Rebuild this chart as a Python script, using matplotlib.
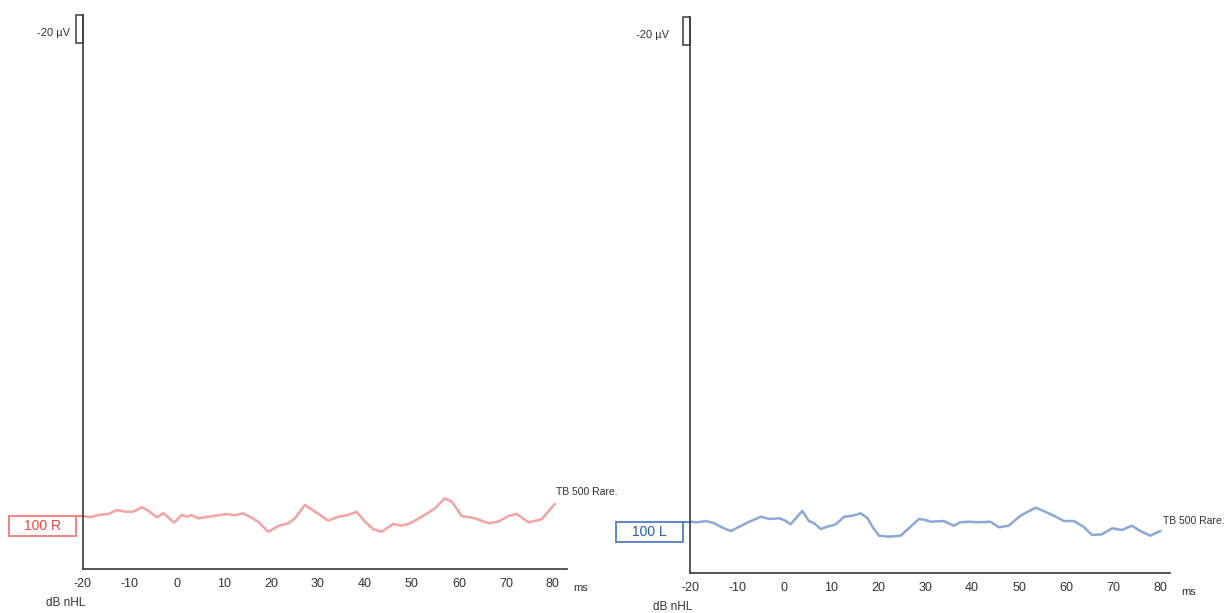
import matplotlib
matplotlib.use('Agg')
import matplotlib.pyplot as plt
from matplotlib.patches import Rectangle

plt.rcParams['font.family'] = ['Liberation Sans', 'DejaVu Sans']

# right ear trace (ms, amplitude in display units, 0 = trace baseline)
ms_r = [-19.9, -18.5, -16.7, -14.6, -12.8, -11.1, -9.3, -7.5, -6.1, -4.3, -2.9, -1.9,
        -0.6, 1.0, 2.1, 3.1, 4.5, 6.7, 8.8, 10.6, 12.3, 14.1, 15.5, 17.3, 19.4, 21.6,
        23.7, 25.1, 27.2, 29.4, 32.2, 34.3, 36.4, 38.2, 40.0, 41.8, 43.6, 46.0, 47.8,
        49.6, 52.1, 54.9, 57.0, 58.5, 60.6, 63.4, 66.3, 68.4, 70.5, 72.3, 74.8, 77.6, 80.4]
amp_r = [0, -1.3, 1, 2, 6, 4.3, 4.3, 8.7, 5.3, -1.3, 2.7, -1.3,
         -6.7, 1, -0.7, 1, -2.3, -0.7, 0.7, 2, 0.7, 2.7, -0.7, -5.7, -15.7, -10,
         -7.3, -2.3, 11, 4.3, -4.7, -0.7, 1, 4.3, -5.7, -13.3, -15.7, -8, -9.7,
         -7.3, -0.7, 7.7, 17.7, 14.3, 0, -2.3, -7.3, -5.7, 0, 2, -6.3, -3.3, 12]

# left ear trace
ms_l = [-19.9, -18.4, -16.6, -14.8, -13.1, -11.3, -9.5, -7.4, -4.9, -3.1, -1.0, 0.0,
        1.4, 2.5, 3.9, 5.3, 6.4, 7.8, 9.2, 11.0, 12.8, 14.6, 16.3, 17.8, 18.8, 20.2,
        22.3, 24.8, 26.9, 28.7, 30.1, 31.2, 34.0, 36.1, 37.5, 39.3, 41.4, 43.9, 45.7,
        47.8, 50.3, 53.5, 55.2, 57.4, 59.5, 61.6, 63.7, 65.5, 67.6, 69.8, 71.9, 74.0,
        75.8, 77.9, 80.0]
amp_l = [0, -0.6, 0.7, -1.6, -6, -9.3, -5, 0, 5, 2.7, 3.4, 1.7,
         -2.6, 3.4, 10.7, 0.7, -1.6, -7.3, -5, -2.6, 5, 6, 8.4, 3.4, -5, -14,
         -15, -14, -5, 2.7, 1.7, 0, 0.7, -4, -0.6, 0, -0.6, 0, -5.6,
         -4, 6, 14, 10.7, 6, 0.7, 0.7, -5, -13.3, -12.6, -6.6, -8.3, -4,
         -9.3, -14, -9.3]

xticks = [-20, -10, 0, 10, 20, 30, 40, 50, 60, 70, 80]

W, H = 1225, 613
fig = plt.figure(figsize=(W / 100, H / 100), dpi=100)
fig.patch.set_facecolor('white')

axis_col = '#3a3a3a'
text_col = '#333333'


def make_panel(left, right, top, bottom, base_y, x_end, ms, amp, line_col,
               label, box_edge, box_txt, tb_y, uv_x):
    ax = fig.add_axes([left / W, (H - bottom) / H, (right - left) / W, (bottom - top) / H])
    ax.set_xlim(-20, x_end)
    ax.set_ylim(-(bottom - base_y), base_y - top)
    for s in ['top', 'right']:
        ax.spines[s].set_visible(False)
    for s in ['left', 'bottom']:
        ax.spines[s].set_color(axis_col)
        ax.spines[s].set_linewidth(1.2)
    ax.set_yticks([])
    ax.set_xticks(xticks)
    ax.set_xticklabels([str(t) for t in xticks], fontsize=9, color=text_col)
    ax.tick_params(axis='x', length=0, pad=6.5)
    ax.patch.set_alpha(0)

    ax.plot(ms, amp, color=line_col, lw=1.8, solid_joinstyle='round')

    # axis end labels
    ax.annotate('ms', xy=(86.0, 0), xycoords=('data', 'axes fraction'),
                xytext=(0, -13.5), textcoords='offset points', ha='center', va='center',
                fontsize=8, color=text_col, annotation_clip=False)
    ax.annotate('dB nHL', xy=(-23.7, 0), xycoords=('data', 'axes fraction'),
                xytext=(0, -24.5), textcoords='offset points', ha='center', va='center',
                fontsize=8.5, color=text_col, annotation_clip=False)
    ax.text(80.6, tb_y, 'TB 500 Rare.', fontsize=7.5, color=text_col,
            ha='left', va='center', clip_on=False)

    # scale bracket at the top of the y axis
    top_amp = base_y - top
    ax.add_patch(Rectangle((-21.5, top_amp - 28), 1.5, 28, fill=False,
                           ec=axis_col, lw=1.1, clip_on=False))
    ax.text(uv_x, top_amp - 18, '-20 \u00b5V', fontsize=8, color=text_col,
            ha='right', va='center', clip_on=False)

    # intensity / ear label box
    ax.add_patch(Rectangle((-35.8, -20), 14.4, 20, fill=False, ec=box_edge,
                           lw=1.3, clip_on=False))
    ax.plot([-21.4, -20], [0, 0], color=box_edge, lw=1.3, clip_on=False)
    ax.text(-28.6, -10, label, fontsize=10, color=box_txt, ha='center',
            va='center', clip_on=False)
    return ax


make_panel(83, 567, 15, 569, 516, 83.0, ms_r, amp_r, '#f4a3a3',
           '100 R', '#f07a7a', '#e8474a', 24, -22.8)
make_panel(690, 1170, 17, 573, 521.7, 82.1, ms_l, amp_l, '#8ca8d6',
           '100 L', '#4f7fc0', '#2a5ba5', 0.7, -24.5)

fig.savefig('out.png', dpi=100, facecolor='white')
